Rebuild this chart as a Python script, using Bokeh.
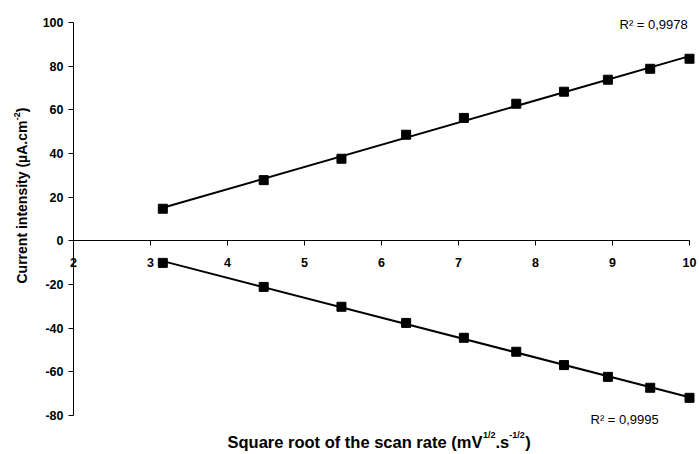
import math
import numpy as np
from bokeh.plotting import figure
from bokeh.models import Label, FixedTicker, Range1d
from bokeh.embed import file_html
from bokeh.resources import INLINE

# ---- data ----
sqrt_scan_rate = [3.16, 4.47, 5.48, 6.32, 7.07, 7.75, 8.37, 8.94, 9.49, 10.0]
anodic_current = [14.7, 27.8, 37.6, 48.6, 56.3, 62.8, 68.3, 73.8, 78.8, 83.4]
cathodic_current = [-10.1, -21.1, -30.2, -37.6, -44.4, -50.8, -56.9, -62.3, -67.3, -71.9]
r2_labels = ["R² = 0,9978", "R² = 0,9995"]
x_ticks = [2, 3, 4, 5, 6, 7, 8, 9, 10]
y_ticks = [-80, -60, -40, -20, 0, 20, 40, 60, 80, 100]

XMIN, XMAX, YMIN, YMAX = 2, 10, -80, 100
W, H = 699, 454
# pixel box of the plot area in the reference
PL, PR, PT, PB = 73, 689, 22, 415

def dx(px):
    return XMIN + (px - PL) * (XMAX - XMIN) / (PR - PL)

def dy(py):
    return YMAX - (py - PT) * (YMAX - YMIN) / (PB - PT)

FONT = "Liberation Sans"

p = figure(width=W, height=H, output_backend="svg", toolbar_location=None,
           x_range=Range1d(dx(0), dx(W)), y_range=Range1d(dy(H), dy(0)),
           min_border=0)
p.outline_line_color = None
p.grid.visible = False
p.background_fill_color = "white"
p.border_fill_color = "white"

# x axis crossing at y = 0
xa = p.xaxis[0]
xa.fixed_location = 0
xa.bounds = (XMIN, XMAX)
xa.ticker = FixedTicker(ticks=x_ticks)
xa.minor_tick_line_color = None
xa.major_tick_in = 0
xa.major_tick_out = 5
xa.major_label_standoff = 12
xa.axis_line_color = "black"
xa.major_tick_line_color = "black"
xa.major_label_text_font = FONT
xa.major_label_text_font_style = "bold"
xa.major_label_text_font_size = "12.5px"
xa.major_label_text_color = "black"

ya = p.yaxis[0]
ya.fixed_location = XMIN
ya.bounds = (YMIN, YMAX)
ya.ticker = FixedTicker(ticks=y_ticks)
ya.major_label_overrides = {t: str(t) for t in y_ticks}
ya.minor_tick_line_color = None
ya.major_tick_in = 0
ya.major_tick_out = 5
ya.major_label_standoff = 5
ya.axis_line_color = "black"
ya.major_tick_line_color = "black"
ya.major_label_text_font = FONT
ya.major_label_text_font_style = "bold"
ya.major_label_text_font_size = "12.5px"
ya.major_label_text_color = "black"

# trend lines (linear least squares from the data) and markers
for ys in (anodic_current, cathodic_current):
    m, b = np.polyfit(sqrt_scan_rate, ys, 1)
    xs = [sqrt_scan_rate[0], sqrt_scan_rate[-1]]
    p.line(xs, [m * v + b for v in xs], line_color="black", line_width=2)
    p.scatter(sqrt_scan_rate, ys, marker="square", size=9, fill_color="black", line_color="black")

# R² annotations
p.add_layout(Label(x=dx(619), y=dy(24), text=r2_labels[0], text_font=FONT,
                   text_font_size="13px", text_color="black",
                   text_align="left", text_baseline="alphabetic"))
p.add_layout(Label(x=dx(590), y=dy(419), text=r2_labels[1], text_font=FONT,
                   text_font_size="13px", text_color="black",
                   text_align="left", text_baseline="alphabetic"))

def piece(text, px, py, size, angle=0.0):
    p.add_layout(Label(x=dx(px), y=dy(py), text=text, text_font=FONT,
                       text_font_size=size, text_font_style="bold", text_color="black",
                       text_align="left", text_baseline="alphabetic", angle=angle))

# x axis title with superscripts
MAIN_X, SUP = 16.5, 9.0
xpos = 227.0
piece("Square root of the scan rate (mV", xpos, 441, f"{MAIN_X}px")
xpos += 15.448 * MAIN_X
piece("1/2", xpos + 0.5, 434.5, f"{SUP}px")
xpos += 1.39 * SUP + 0.5
piece(".s", xpos, 441, f"{MAIN_X}px")
xpos += 0.834 * MAIN_X
piece("-1/2", xpos, 434.5, f"{SUP}px")
xpos += 1.723 * SUP
piece(")", xpos + 0.5, 441, f"{MAIN_X}px")

# y axis title (rotated) with superscript
MAIN_Y = 14.0
ypos = 283.0
piece("Current intensity (µA.cm", 21, ypos, f"{MAIN_Y}px", math.pi / 2)
ypos -= 11.668 * MAIN_Y
piece("-2", 16, ypos, f"{SUP}px", math.pi / 2)
ypos -= 0.889 * SUP
piece(")", 21, ypos, f"{MAIN_Y}px", math.pi / 2)

open("out.html", "w").write(file_html(p, INLINE))
